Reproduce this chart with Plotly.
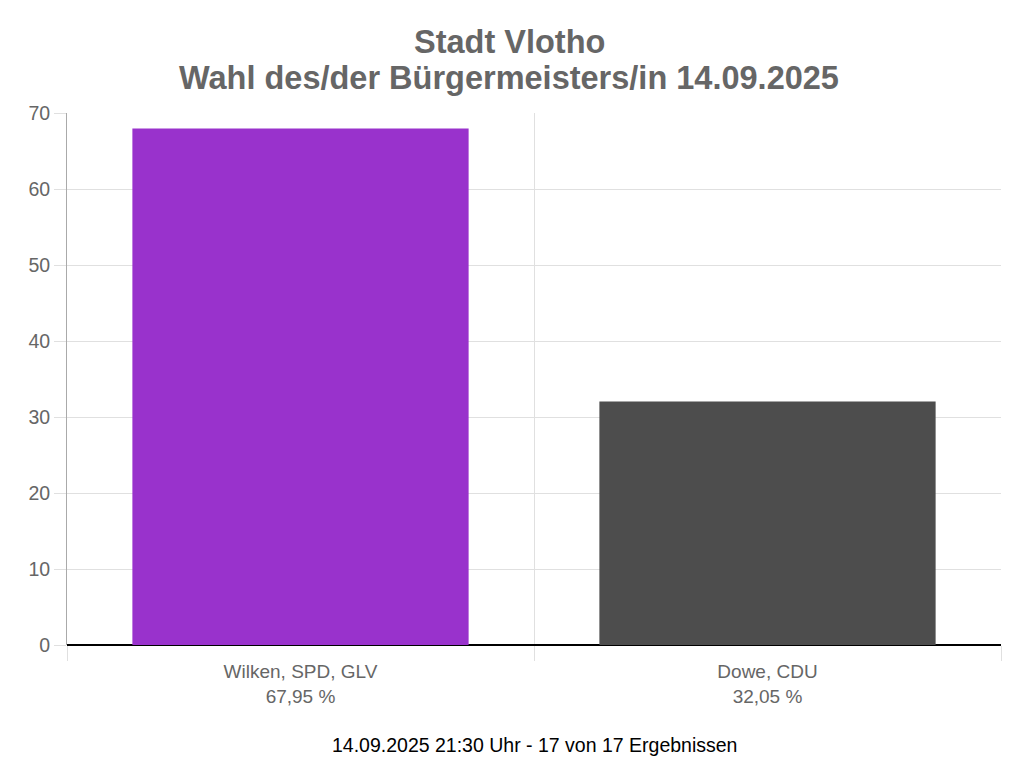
import plotly.graph_objects as go

candidates = ["Wilken, SPD, GLV", "Dowe, CDU"]
values = [67.95, 32.05]
value_labels = ["67,95 %", "32,05 %"]
colors = ["#9932CC", "#4D4D4D"]
y_ticks = [0, 10, 20, 30, 40, 50, 60, 70]
title_lines = ["Stadt Vlotho", "Wahl des/der Bürgermeisters/in 14.09.2025"]
footer = "14.09.2025 21:30 Uhr - 17 von 17 Ergebnissen"

x_pos = list(range(len(candidates)))
tick_text = [f"{c}<br>{v}" for c, v in zip(candidates, value_labels)]
bounds = [i - 0.5 for i in range(len(candidates) + 1)]

fig = go.Figure(go.Bar(x=x_pos, y=values, marker=dict(color=colors, line=dict(width=0)),
                       width=0.72, hoverinfo="skip"))

W, H = 1024, 781
OFF = 8  # page body margin
L, T, R, B = 67 - OFF, 113 - OFF, W - (1001 - OFF), H - (645 - OFF)
PW, PH = W - L - R, H - T - B

def px_x(sx):
    return (sx - OFF - L) / PW

def px_y(sy):
    return 1 - (sy - OFF - T) / PH

font_family = "Liberation Sans, Arial, Helvetica, sans-serif"
annotations = []
for line, sy in zip(title_lines, [42, 78]):
    annotations.append(dict(text=f"<b>{line}</b>", x=px_x(509), y=px_y(sy),
                            xref="paper", yref="paper", xanchor="center",
                            yanchor="middle", showarrow=False,
                            font=dict(size=32.5, color="#666666", family=font_family)))
annotations.append(dict(text=footer, x=0.5, xref="paper", yref="paper",
                        y=px_y(745), yanchor="middle", showarrow=False,
                        font=dict(size=19.5, color="#000000", family=font_family)))

fig.update_layout(
    width=W, height=H,
    margin=dict(l=L, r=R, t=T, b=B, autoexpand=False),
    paper_bgcolor="white", plot_bgcolor="white",
    showlegend=False,
    font=dict(family=font_family, color="#666666", size=19),
    xaxis=dict(range=[-0.5, len(candidates) - 0.5], tickmode="array", tickvals=x_pos,
               ticktext=tick_text, showgrid=False, ticks="", showline=False,
               zeroline=False, tickfont=dict(size=19, color="#666666"),
               ticklabelstandoff=13,
               minor=dict(tickmode="array", tickvals=bounds, showgrid=True,
                          gridcolor="#E0E0E0", gridwidth=1, ticks="outside",
                          ticklen=15, tickcolor="#E0E0E0", tickwidth=1)),
    yaxis=dict(range=[0, 70], tickmode="array", tickvals=y_ticks, showgrid=True,
               gridcolor="#E0E0E0", gridwidth=1, ticks="outside", ticklen=12,
               tickcolor="#E0E0E0", showline=True, linecolor="#AAAAAA", linewidth=1,
               zeroline=True, zerolinecolor="#000000", zerolinewidth=1.5,
               tickfont=dict(size=19.5, color="#666666")),
    annotations=annotations,
)

fig.write_html("out.html")
